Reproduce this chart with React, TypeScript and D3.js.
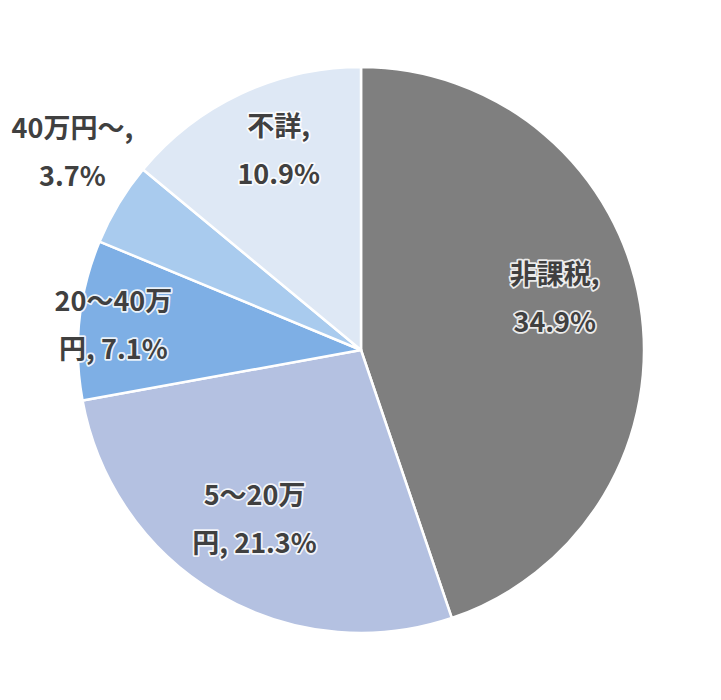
import React, { useEffect, useRef } from 'react';
import * as d3 from 'd3';

// 課税所得階級別の構成比（%）
const categories = ['非課税', '5〜20万円', '20〜40万円', '40万円〜', '不詳'];
const shares = [34.9, 21.3, 7.1, 3.7, 10.9];
const sliceColors = ['#7f7f7f', '#b4c1e1', '#7eafe5', '#a9cbee', '#dee8f5'];
// Excel wrapped the data labels at these points
const labelLines = [
  ['非課税,', '34.9%'],
  ['5〜20万', '円, 21.3%'],
  ['20〜40万', '円, 7.1%'],
  ['40万円〜,', '3.7%'],
  ['不詳,', '10.9%'],
];

const W = 721;
const H = 700;

export default function App() {
  const svgRef = useRef<SVGSVGElement>(null);

  useEffect(() => {
    document.body.style.margin = '0';
    if (!svgRef.current) return;
    const svg = d3.select(svgRef.current);
    svg.selectAll('*').remove();

    const cx = 361;
    const cy = 350;
    const radius = 283;

    const g = svg.append('g').attr('transform', `translate(${cx},${cy})`);

    const data = categories.map((c, i) => ({ name: c, value: shares[i], i }));
    const pie = d3.pie<typeof data[0]>().sort(null).value(d => d.value);
    const arcs = pie(data);

    const arc = d3.arc<d3.PieArcDatum<typeof data[0]>>()
      .innerRadius(0)
      .outerRadius(radius);

    g.selectAll('path.slice')
      .data(arcs)
      .enter()
      .append('path')
      .attr('class', 'slice')
      .attr('d', arc)
      .attr('fill', d => sliceColors[d.data.i])
      .attr('stroke', '#ffffff')
      .attr('stroke-width', 2.5)
      .attr('stroke-linejoin', 'round');

    // label placement: radius factor and small angle nudge (deg) per slice
    const labelR = [0.71, 0.70, 0.88, 1.24, 0.77];
    const labelNudge = [-6, 2, 0, 3.6, 3];

    const labels = g.selectAll('g.lbl')
      .data(arcs)
      .enter()
      .append('g')
      .attr('class', 'lbl')
      .attr('transform', d => {
        const mid = (d.startAngle + d.endAngle) / 2 + (labelNudge[d.data.i] * Math.PI) / 180;
        const r = radius * labelR[d.data.i];
        return `translate(${r * Math.sin(mid)},${-r * Math.cos(mid)})`;
      });

    labels.each(function (d) {
      const lines = labelLines[d.data.i];
      const sel = d3.select(this);
      lines.forEach((t, k) => {
        sel.append('text')
          .attr('y', (k - (lines.length - 1) / 2) * 48)
          .attr('text-anchor', 'middle')
          .attr('dominant-baseline', 'central')
          .attr('font-family', '"Noto Sans CJK JP", "Noto Sans", sans-serif')
          .attr('font-size', 27)
          .attr('font-weight', 700)
          .attr('fill', '#404040')
          .attr('stroke', 'rgba(255,255,255,0.85)')
          .attr('stroke-width', 3.5)
          .attr('paint-order', 'stroke')
          .attr('stroke-linejoin', 'round')
          .text(t);
      });
    });
  }, []);

  return (
    <div style={{ width: W, height: H, background: '#fff' }}>
      <svg ref={svgRef} width={W} height={H} style={{ display: 'block' }} />
    </div>
  );
}
